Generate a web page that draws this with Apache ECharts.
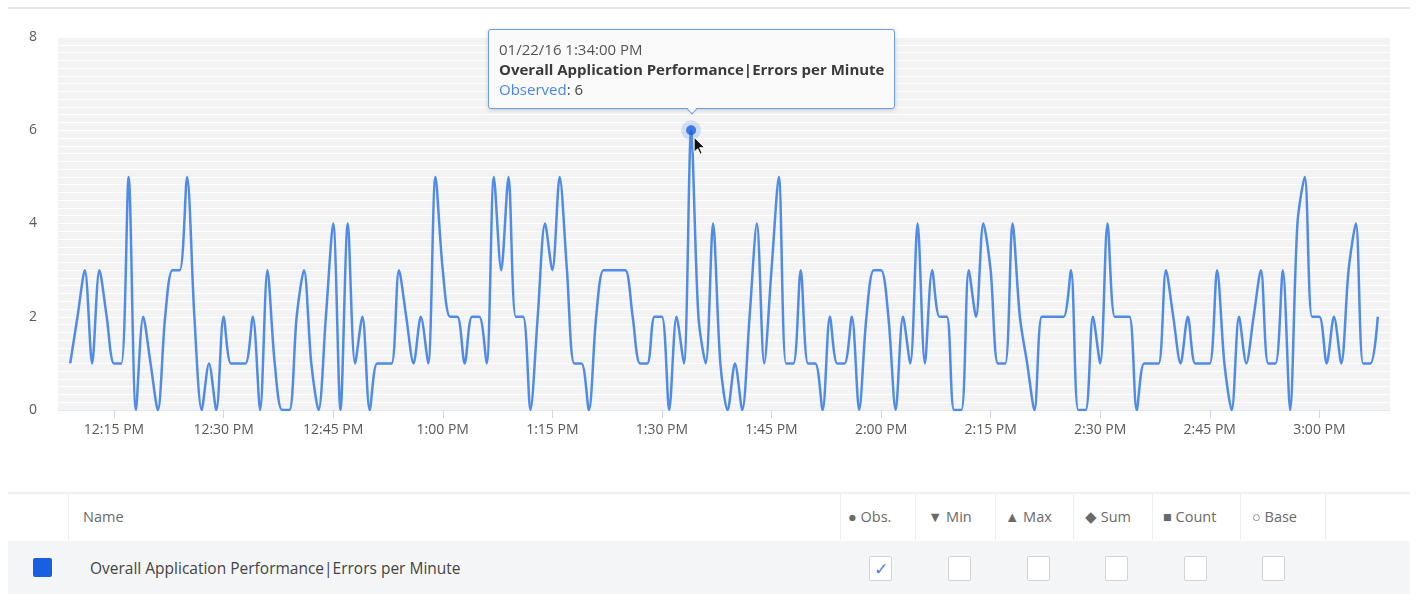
<!DOCTYPE html>
<html>
<head>
<meta charset="utf-8">
<script src="https://cdn.jsdelivr.net/npm/echarts@6/dist/echarts.min.js"></script>
<style>
  html, body { margin: 0; padding: 0; background: #fff; }
  body { width: 1418px; height: 594px; position: relative; overflow: hidden; font-family: "Open Sans", "Noto Sans", sans-serif; }
  #chart { position: absolute; left: 0; top: 0; width: 1418px; height: 594px; }
  .abs { position: absolute; }
  .topline { left: 8px; top: 7px; width: 1402px; height: 2px; background: #e6e6e6; }
  .hdr { left: 8px; top: 492px; width: 1402px; height: 48px; border-top: 2px solid #f0f0f0; background: #fff; }
  .row { left: 8px; top: 541px; width: 1402px; height: 53px; background: #f4f5f7; }
  .sep { width: 1px; background: #eeeeee; top: 494px; height: 46px; }
  .htxt { top: 506px; font-size: 14.5px; color: #6a6a6a; line-height: 22px; white-space: nowrap; }
  .chk { width: 23px; height: 25px; top: 556px; border: 1px solid #d4d4d4; border-radius: 2px; background: #fff; box-sizing: border-box; text-align: center; line-height: 23px; font-size: 17px; color: #4a86e8; }
</style>
</head>
<body>
<div id="chart"></div>
<div class="abs topline"></div>
<div class="abs hdr"></div>
<div class="abs row"></div>
<div id="table"></div>
<script>
// ---------------- data ----------------
const dateLabel = '01/22/16';
const seriesName = 'Overall Application Performance|Errors per Minute';
const startTime = '12:09 PM';           // first sample, one sample per minute
const hoverTime = '1:34 PM';            // sample shown in the tooltip
const values = [
  1, 2, 3, 1, 3, 2, 1, 1, 5, 0, 2, 1, 0, 2, 3, 3, 5, 2, 0, 1, 0,   // 12:09 - 12:29
  2, 1, 1, 1, 2, 0, 3, 1, 0, 0, 2, 3, 1, 0, 2,                     // 12:30 - 12:44
  4, 0, 4, 1, 2, 0, 1, 1, 1, 3, 2, 1, 2, 1, 5,                     // 12:45 - 12:59
  3, 2, 2, 1, 2, 2, 1, 5, 3, 5, 2, 2, 0, 2, 4,                     // 1:00 - 1:14
  3, 5, 3, 1, 1, 0, 2, 3, 3, 3, 3, 2, 1, 1, 2,                     // 1:15 - 1:29
  2, 0, 2, 1, 6, 2, 1, 4, 1, 0, 1, 0, 2, 4, 1,                     // 1:30 - 1:44
  3, 5, 1, 1, 3, 1, 1, 0, 2, 1, 1, 2, 0, 2, 3,                     // 1:45 - 1:59
  3, 2, 0, 2, 1, 4, 1, 3, 2, 2, 0, 0, 3, 2, 4,                     // 2:00 - 2:14
  3, 1, 1, 4, 2, 1, 0, 2, 2, 2, 2, 3, 0, 0, 2,                     // 2:15 - 2:29
  1, 4, 2, 2, 2, 0, 1, 1, 1, 3, 2, 1, 2, 1, 1,                     // 2:30 - 2:44
  1, 3, 1, 0, 2, 1, 2, 3, 1, 1, 3, 0, 4, 5, 2,                     // 2:45 - 2:59
  2, 1, 2, 1, 3, 4, 1, 1, 2                                        // 3:00 - 3:08
];
const tickLabels = ['12:15 PM', '12:30 PM', '12:45 PM', '1:00 PM', '1:15 PM', '1:30 PM',
                    '1:45 PM', '2:00 PM', '2:15 PM', '2:30 PM', '2:45 PM', '3:00 PM'];
const yTicks = [0, 2, 4, 6, 8];
const tableColumns = ['\u25CF Obs.', '\u25BC Min', '\u25B2 Max', '\u25C6 Sum', '\u25A0 Count', '\u25CB Base'];
const checkedColumns = [true, false, false, false, false, false];

// ---------------- helpers ----------------
function toMinutes(label) {
  const m = label.match(/(\d+):(\d+)\s*(AM|PM)/);
  let h = parseInt(m[1], 10) % 12;
  if (m[3] === 'PM') h += 12;
  return h * 60 + parseInt(m[2], 10);
}
function fmtMinutes(mins, withSeconds) {
  let h = Math.floor(mins / 60), m = Math.round(mins % 60);
  const ap = h >= 12 ? 'PM' : 'AM';
  h = h % 12 || 12;
  return h + ':' + String(m).padStart(2, '0') + (withSeconds ? ':00' : '') + ' ' + ap;
}
const start = toMinutes(startTime);
const points = values.map((v, i) => [start + i, v]);
const hoverIdx = toMinutes(hoverTime) - start;
const hoverPoint = points[hoverIdx];
const tickValues = tickLabels.map(toMinutes);
const labelByValue = {};
tickValues.forEach((v, i) => { labelByValue[v] = tickLabels[i]; });
const pad = 1.67;

// ---------------- chart ----------------
const chart = echarts.init(document.getElementById('chart'), null, { renderer: 'canvas' });
const lineColor = '#518be8';
const FONT = '"Open Sans", "Noto Sans", sans-serif';
chart.setOption({
  animation: false,
  textStyle: { fontFamily: FONT },
  grid: { left: 58, right: 28, top: 37, bottom: 184, show: true, backgroundColor: '#f3f3f3', borderWidth: 0 },
  xAxis: {
    type: 'value',
    min: start - pad,
    max: start + values.length - 1 + pad,
    axisLine: { show: true, lineStyle: { color: '#e3e9f3', width: 1 } },
    axisTick: { show: true, customValues: tickValues, length: 8, lineStyle: { color: '#c9d7ee' } },
    axisLabel: {
      customValues: tickValues,
      formatter: v => labelByValue[Math.round(v)] || '',
      color: '#5a5a5a', fontSize: 14, margin: 13
    },
    splitLine: { show: false }
  },
  yAxis: {
    type: 'value',
    min: yTicks[0], max: yTicks[yTicks.length - 1], interval: yTicks[1] - yTicks[0],
    axisLine: { show: false }, axisTick: { show: false },
    axisLabel: { color: '#5a5a5a', fontSize: 14, margin: 21 },
    splitLine: { show: true, lineStyle: { color: '#ffffff', width: 1 } },
    minorTick: { show: false, splitNumber: 12 },
    minorSplitLine: { show: true, lineStyle: { color: '#ffffff', width: 1 } }
  },
  tooltip: {
    trigger: 'item',
    position: 'top',
    alwaysShowContent: true,
    transitionDuration: 0,
    showDelay: 0,
    backgroundColor: '#fafafa',
    borderColor: '#6c9de9',
    borderWidth: 1.5,
    padding: [9, 10],
    extraCssText: 'box-shadow: 0 1px 4px rgba(0,0,0,0.18); border-radius: 3px; line-height: 20px;',
    textStyle: { fontFamily: FONT, fontSize: 15, color: '#444' },
    formatter: p => {
      const pt = p.data;
      return '<div style="color:#555">' + dateLabel + ' ' + fmtMinutes(pt[0], true) + '</div>' +
             '<div style="font-weight:bold;color:#3a3a3a">' + seriesName + '</div>' +
             '<div><span style="color:#4a86e8">Observed</span>: ' + pt[1] + '</div>';
    }
  },
  series: [
    {
      type: 'line', name: seriesName, data: points,
      smooth: 0.3,
      showSymbol: false, symbol: 'none',
      lineStyle: { color: lineColor, width: 2.5 },
      silent: true, z: 2
    },
    {
      type: 'scatter', data: [hoverPoint], symbolSize: 20,
      itemStyle: { color: 'rgba(80,138,232,0.28)' }, z: 3,
      emphasis: { disabled: true }
    },
    {
      type: 'scatter', data: [hoverPoint], symbolSize: 10,
      itemStyle: { color: '#1a5fe0' }, z: 4, silent: true,
      tooltip: { show: false }
    }
  ]
});
chart.dispatchAction({ type: 'showTip', seriesIndex: 1, dataIndex: 0 });

// mouse cursor drawn just below-right of the hovered point
const cp = chart.convertToPixel({ gridIndex: 0 }, hoverPoint);
chart.setOption({
  graphic: [{
    type: 'polygon', z: 100,
    x: cp[0] + 3, y: cp[1] + 7,
    shape: { points: [[0, 0], [0, 15], [3.5, 11.5], [6, 17], [8, 16], [5.5, 10.5], [10.5, 10.5]] },
    style: { fill: '#111', stroke: '#fff', lineWidth: 1 }
  }]
});

// ---------------- table ----------------
const table = document.getElementById('table');
function add(cls, style, text) {
  const d = document.createElement('div');
  d.className = 'abs ' + cls;
  Object.assign(d.style, style);
  if (text != null) d.textContent = text;
  table.appendChild(d);
  return d;
}
const sepX = [68, 840, 915, 995, 1073, 1152, 1240, 1325];
sepX.forEach(x => add('sep', { left: x + 'px' }));
add('htxt', { left: '83px' }, 'Name');
const colTextX = [848, 928, 1005, 1085, 1163, 1252];
const chkX = [869, 948, 1027, 1105, 1184, 1262];
tableColumns.forEach((c, i) => {
  add('htxt', { left: colTextX[i] + 'px' }, c);
  add('chk', { left: chkX[i] + 'px' }, checkedColumns[i] ? '\u2713' : '');
});
add('', { left: '33px', top: '558px', width: '19px', height: '19px', background: '#1a5fe0', borderRadius: '2px' });
add('', { left: '90px', top: '557px', fontSize: '15.5px', color: '#444', lineHeight: '22px', whiteSpace: 'nowrap' }, seriesName);
</script>
</body>
</html>
